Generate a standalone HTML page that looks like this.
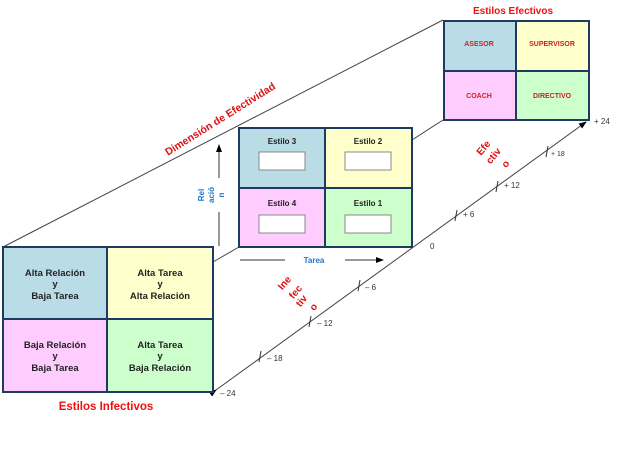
<!DOCTYPE html>
<html><head><meta charset="utf-8"><style>
html,body{margin:0;padding:0;background:#fff;}
svg{display:block;font-family:"Liberation Sans",Arial,sans-serif;font-weight:bold;}
</style></head><body>
<svg width="635" height="473" viewBox="0 0 635 473" xmlns="http://www.w3.org/2000/svg">
<defs>
<marker id="ar" markerWidth="8" markerHeight="8" refX="7" refY="4" orient="auto" markerUnits="userSpaceOnUse">
<path d="M0,1 L8,4 L0,7 z" fill="#000"/></marker>
</defs>
<line x1="3" y1="247" x2="443" y2="20" stroke="#444" stroke-width="1"/>
<line x1="412" y1="140" x2="443" y2="120" stroke="#444" stroke-width="1"/>
<line x1="213" y1="262" x2="239" y2="247" stroke="#444" stroke-width="1"/>
<line x1="216" y1="390" x2="586" y2="122" stroke="#444" stroke-width="1" marker-end="url(#ar)" marker-start="url(#ar)"/>
<g stroke="#333" stroke-width="1">
<line x1="548" y1="146" x2="546" y2="157"/>
<line x1="498" y1="181" x2="496" y2="192"/>
<line x1="457" y1="210" x2="455" y2="221"/>
<line x1="360" y1="280" x2="358" y2="291"/>
<line x1="311" y1="316" x2="309" y2="327"/>
<line x1="261" y1="351" x2="259" y2="362"/>
</g>
<g font-size="8" font-weight="normal" fill="#333">
<text x="594" y="124">+ 24</text>
<text x="551" y="156" font-size="7">+ 18</text>
<text x="504" y="188">+ 12</text>
<text x="463" y="217">+ 6</text>
<text x="430" y="249">0</text>
<text x="365" y="290">– 6</text>
<text x="317" y="326">– 12</text>
<text x="267" y="361">– 18</text>
<text x="220" y="396">– 24</text>
</g>
<rect x="444" y="21" width="72" height="50" fill="#b9dce6"/>
<rect x="516" y="21" width="73" height="50" fill="#ffffcc"/>
<rect x="444" y="71" width="72" height="49" fill="#ffccff"/>
<rect x="516" y="71" width="73" height="49" fill="#ccffcc"/>
<rect x="444" y="21" width="145" height="99" fill="none" stroke="#1f3a5f" stroke-width="2"/>
<line x1="516" y1="21" x2="516" y2="120" stroke="#1f3a5f" stroke-width="2"/>
<line x1="444" y1="71" x2="589" y2="71" stroke="#1f3a5f" stroke-width="2"/>
<g font-size="7" fill="#cc2222" text-anchor="middle">
<text x="479" y="46">ASESOR</text><text x="552" y="46">SUPERVISOR</text>
<text x="479" y="98">COACH</text><text x="552" y="98">DIRECTIVO</text>
</g>
<text x="513" y="14" font-size="10" fill="#ee1111" text-anchor="middle">Estilos Efectivos</text>
<rect x="239" y="128" width="86" height="60" fill="#b9dce6"/>
<rect x="325" y="128" width="87" height="60" fill="#ffffcc"/>
<rect x="239" y="188" width="86" height="59" fill="#ffccff"/>
<rect x="325" y="188" width="87" height="59" fill="#ccffcc"/>
<rect x="239" y="128" width="173" height="119" fill="none" stroke="#1f3a5f" stroke-width="2"/>
<line x1="325" y1="128" x2="325" y2="247" stroke="#1f3a5f" stroke-width="2"/>
<line x1="239" y1="188" x2="412" y2="188" stroke="#1f3a5f" stroke-width="2"/>
<g fill="#fff" stroke="#888" stroke-width="1">
<rect x="259" y="152" width="46" height="18"/><rect x="345" y="152" width="46" height="18"/>
<rect x="259" y="215" width="46" height="18"/><rect x="345" y="215" width="46" height="18"/>
</g>
<g font-size="8" fill="#222" text-anchor="middle">
<text x="282" y="144">Estilo 3</text><text x="368" y="144">Estilo 2</text>
<text x="282" y="206">Estilo 4</text><text x="368" y="206">Estilo 1</text>
</g>
<line x1="219" y1="246" x2="219" y2="212" stroke="#333" stroke-width="1"/>
<line x1="219" y1="178" x2="219" y2="145" stroke="#333" stroke-width="1" marker-end="url(#ar)"/>
<g font-size="8" fill="#2277cc" text-anchor="middle">
<text transform="translate(204,195) rotate(-90)">Rel</text>
<text transform="translate(214,195) rotate(-90)">ació</text>
<text transform="translate(224,195) rotate(-90)">n</text>
</g>
<line x1="240" y1="260" x2="285" y2="260" stroke="#333" stroke-width="1"/>
<line x1="345" y1="260" x2="383" y2="260" stroke="#333" stroke-width="1" marker-end="url(#ar)"/>
<text x="314" y="263" font-size="8" fill="#2277cc" text-anchor="middle">Tarea</text>
<rect x="3" y="247" width="104" height="72" fill="#b9dce6"/>
<rect x="107" y="247" width="106" height="72" fill="#ffffcc"/>
<rect x="3" y="319" width="104" height="73" fill="#ffccff"/>
<rect x="107" y="319" width="106" height="73" fill="#ccffcc"/>
<rect x="3" y="247" width="210" height="145" fill="none" stroke="#1f3a5f" stroke-width="2"/>
<line x1="107" y1="247" x2="107" y2="392" stroke="#1f3a5f" stroke-width="2"/>
<line x1="3" y1="319" x2="213" y2="319" stroke="#1f3a5f" stroke-width="2"/>
<g font-size="9.5" fill="#222" text-anchor="middle">
<text x="55" y="276">Alta Relación</text><text x="55" y="287">y</text><text x="55" y="299">Baja Tarea</text>
<text x="160" y="276">Alta Tarea</text><text x="160" y="287">y</text><text x="160" y="299">Alta Relación</text>
<text x="55" y="348">Baja Relación</text><text x="55" y="359">y</text><text x="55" y="371">Baja Tarea</text>
<text x="160" y="348">Alta Tarea</text><text x="160" y="359">y</text><text x="160" y="371">Baja Relación</text>
</g>
<text x="106" y="410" font-size="11.5" fill="#ee1111" text-anchor="middle">Estilos Infectivos</text>
<text transform="translate(222,122) rotate(-32)" font-size="10.5" fill="#dd1111" text-anchor="middle">Dimensión de Efectividad</text>
<g font-size="10" fill="#dd1111" text-anchor="middle">
<text transform="translate(486,150) rotate(-50)">Efe</text>
<text transform="translate(496,158) rotate(-50)">ctiv</text>
<text transform="translate(508,166) rotate(-50)">o</text>
<text transform="translate(287,285) rotate(-50)">Ine</text>
<text transform="translate(298,294) rotate(-50)">fec</text>
<text transform="translate(304,303) rotate(-50)">tiv</text>
<text transform="translate(316,309) rotate(-50)">o</text>
</g>
</svg>
</body></html>
